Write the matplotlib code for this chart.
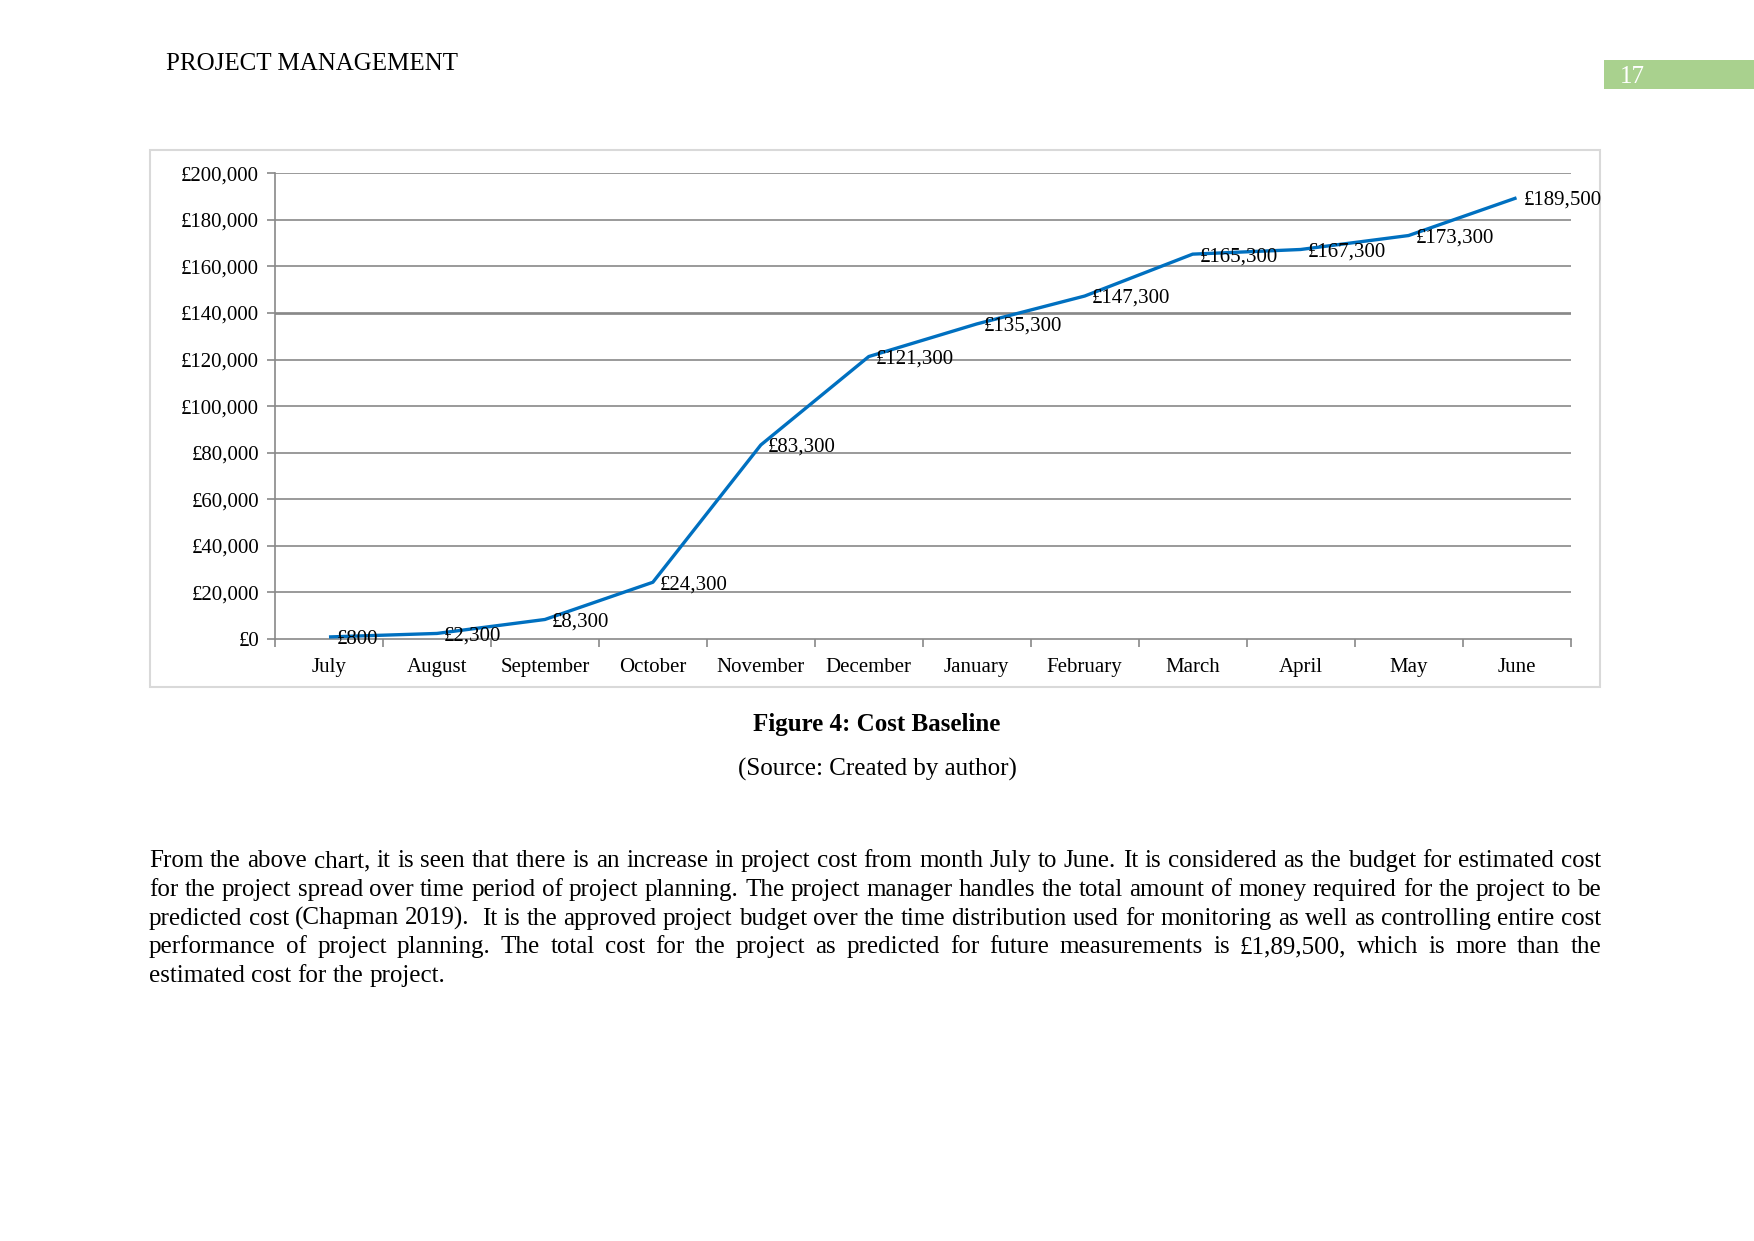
import matplotlib
matplotlib.use("Agg")
import matplotlib.pyplot as plt
from matplotlib.patches import Rectangle
from matplotlib.ticker import FuncFormatter, FixedLocator

# ---- data ----
months = ["July", "August", "September", "October", "November", "December",
          "January", "February", "March", "April", "May", "June"]
cost = [800, 2300, 8300, 24300, 83300, 121300, 135300, 147300,
        165300, 167300, 173300, 189500]
y_ticks = [0, 20000, 40000, 60000, 80000, 100000, 120000, 140000,
           160000, 180000, 200000]

header_text = "PROJECT MANAGEMENT"
page_number = "17"
caption = "Figure 4: Cost Baseline"
source = "(Source: Created by author)"
para_lines = [
    "From the above chart, it is seen that there is an increase in project cost from month July to June. It is considered as the budget for estimated cost",
    "for the project spread over time period of project planning. The project manager handles the total amount of money required for the project to be",
    "predicted cost (Chapman 2019).  It is the approved project budget over the time distribution used for monitoring as well as controlling entire cost",
    "performance of project planning. The total cost for the project as predicted for future measurements is £1,89,500, which is more than the",
    "estimated cost for the project.",
]

W, H, DPI = 1754, 1241, 150
FONT = "Liberation Serif"
plt.rcParams["font.family"] = [FONT, "DejaVu Serif"]

fig = plt.figure(figsize=(W / DPI, H / DPI), dpi=DPI)
fig.patch.set_facecolor("white")


def fx(px):
    return px / W


def fy(py):
    return 1 - py / H


# ---- page header ----
fig.text(fx(166), fy(69.5), header_text, fontsize=12, ha="left", va="baseline", color="black")
fig.patches.append(Rectangle((fx(1604), fy(89)), fx(W - 1604), (89 - 60) / H,
                             transform=fig.transFigure, facecolor="#A9D18E",
                             edgecolor="none", zorder=-2))
fig.text(fx(1620), fy(83), page_number, fontsize=12, color="white", ha="left", va="baseline")

# ---- chart frame ----
fig.patches.append(Rectangle((fx(150), fy(687)), fx(1450), 537 / H,
                             transform=fig.transFigure, facecolor="none",
                             edgecolor="#D9D9D9", linewidth=1.0, zorder=-2))

# ---- chart ----
left, right, top, bottom = 275, 1570.5, 173.4, 638.8
ax = fig.add_axes([fx(left), fy(bottom), fx(right - left), (bottom - top) / H])
ax.set_facecolor("none")
x = list(range(len(months)))
GRID = "#898989"

ax.set_xlim(-0.5, len(months) - 0.5)
ax.set_ylim(y_ticks[0], y_ticks[-1])
ax.set_yticks(y_ticks)
ax.yaxis.set_major_formatter(FuncFormatter(lambda v, p: "£{:,.0f}".format(v)))
for yv in y_ticks[1:]:
    lw = 1.3 if yv == 140000 else 0.8
    ax.axhline(yv, color=GRID, linewidth=lw, zorder=1)

ax.set_xticks(x)
ax.set_xticklabels(months)
ax.xaxis.set_minor_locator(FixedLocator([i - 0.5 for i in range(len(months) + 1)]))
ax.tick_params(axis="x", which="major", length=0, pad=9.3, labelsize=10, labelcolor="black")
ax.tick_params(axis="x", which="minor", length=3.8, width=0.8, color=GRID, direction="out")
ax.tick_params(axis="y", which="major", length=3.8, width=0.8, color=GRID, pad=3.8,
               labelsize=10, labelcolor="black", direction="out")

for s in ["top", "right"]:
    ax.spines[s].set_visible(False)
for s in ["left", "bottom"]:
    ax.spines[s].set_color(GRID)
    ax.spines[s].set_linewidth(0.8)

ax.plot(x, cost, color="#0070C0", linewidth=1.6, zorder=3, solid_capstyle="butt")
for xi, v in zip(x, cost):
    ax.annotate("£{:,}".format(v), (xi, v), xytext=(3.5, 0), textcoords="offset points",
                ha="left", va="center_baseline", fontsize=10, color="black", zorder=4)

# ---- caption ----
fig.text(fx(877), fy(731.5), caption, fontsize=12, fontweight="bold", ha="center", va="baseline")
fig.text(fx(877), fy(775.5), source, fontsize=12, ha="center", va="baseline")

# ---- justified paragraph ----
renderer = fig.canvas.get_renderer()
x0, x1 = 149, 1601
baselines = [867.3, 896.0, 924.7, 953.3, 982.0]
space_w = 6.25  # natural space width in px for 12pt at 150 dpi
for li, (line, by) in enumerate(zip(para_lines, baselines)):
    words = line.split(" ")
    texts = []
    widths = []
    for w_ in words:
        t = fig.text(0, fy(by), w_, fontsize=12, ha="left", va="baseline")
        texts.append(t)
        widths.append(t.get_window_extent(renderer).width if w_ else 0.0)
    last = li == len(para_lines) - 1
    if last or len(words) < 2:
        gap = space_w
    else:
        gap = (x1 - x0 - sum(widths)) / (len(words) - 1)
    cx = x0
    for t, wd in zip(texts, widths):
        t.set_x(fx(cx))
        cx += wd + gap

fig.savefig("out.png", dpi=DPI, facecolor="white")
